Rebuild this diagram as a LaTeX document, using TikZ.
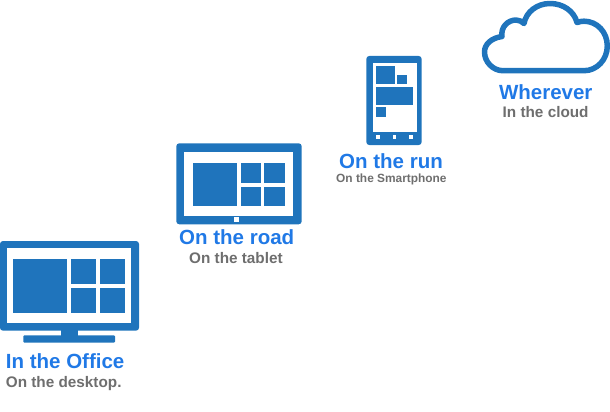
\documentclass[tikz,border=0pt]{standalone}
\usepackage{fontspec}
\setmainfont{Liberation Sans}
\usepackage{xcolor}
\usetikzlibrary{positioning}
\definecolor{devblue}{HTML}{1F74BC}
\definecolor{headblue}{HTML}{2079E6}
\definecolor{subgray}{HTML}{6E6E6E}

\begin{document}
\begin{tikzpicture}[
    x=1pt, y=-1pt,
    shell/.style={fill=devblue, rounded corners=3pt},
    glass/.style={fill=white},
    tile/.style={fill=devblue},
    heading/.style={inner sep=0pt, anchor=base west, text=headblue, font=\fontsize{20.5}{24}\selectfont\bfseries},
    subline/.style={inner sep=0pt, anchor=base west, text=subgray, font=\fontsize{15.3}{18}\selectfont\bfseries},
    smallsub/.style={subline, font=\fontsize{11.9}{14}\selectfont\bfseries}
]
\useasboundingbox (0,0) rectangle (610,412);
% desktop
\fill[tile] (60.7,330) rectangle (77.7,336);
\fill[tile, rounded corners=1pt] (23.3,335.3) rectangle (115,342.7);
\fill[shell] (0,241) rectangle (139,330.7);
\fill[glass] (6.7,248) rectangle (131,323);
\fill[tile] (12.7,258.7) rectangle (66.7,312.7);
\fill[tile] (71,258.7) rectangle (96.3,283.7);
\fill[tile] (100.3,258.7) rectangle (125.3,283.7);
\fill[tile] (71,287.7) rectangle (96.3,312.7);
\fill[tile] (100.3,287.7) rectangle (125.3,312.7);
\node[heading] (office) at (5.7,368) {In the Office};
\node[subline, below=19pt of office.base west, anchor=base west] (desktop) {On the desktop.};
% tablet
\fill[shell] (176.3,143.3) rectangle (301.7,224.3);
\fill[glass] (184.3,152.3) rectangle (292.7,215.7);
\fill[tile] (193,163) rectangle (237.3,206.3);
\fill[tile] (240.7,163) rectangle (261,183.3);
\fill[tile] (264.3,163) rectangle (284.7,183.3);
\fill[tile] (240.7,186.7) rectangle (261,206.3);
\fill[tile] (264.3,186.7) rectangle (284.7,206.3);
\fill[glass] (233.7,216.7) rectangle (238.7,221.7);
\node[heading] (road) at (179,244.6) {On the road};
\node[subline, below=19pt of road.base west, xshift=10pt, anchor=base west] (tablet) {On the tablet};
% smartphone
\fill[shell] (366.3,56) rectangle (421.7,145);
\fill[glass] (373,62.7) rectangle (416.7,131.7);
\fill[tile] (376.3,66) rectangle (394.7,84.3);
\fill[tile] (397.3,75) rectangle (406.7,84.3);
\fill[tile] (376.3,86.7) rectangle (412.7,105.3);
\fill[tile] (376.3,107.3) rectangle (385.7,116.7);
\fill[glass] (376.2,134.9) rectangle +(3.6,3.6);
\fill[glass] (392.5,134.9) rectangle +(3.6,3.6);
\fill[glass] (408.9,134.9) rectangle +(3.6,3.6);
\node[heading] (run) at (339,168) {On the run};
\node[smallsub, below=14.7pt of run.base west, xshift=-3pt, anchor=base west] (phone) {On the Smartphone};
% cloud
\draw[devblue, line width=5.5pt, line join=round]
    (503,70.7) .. controls (493,70.7) and (484.5,62) .. (484.5,52)
    .. controls (484.5,44.5) and (491,38) .. (502,36.5)
    .. controls (500.5,27) and (508,20) .. (516,20)
    .. controls (519,20) and (522,21.5) .. (524,23.5)
    .. controls (526,12) and (537,3.5) .. (550,3.5)
    .. controls (563,3.5) and (574,11) .. (577,22.5)
    .. controls (580,21.5) and (582,21.2) .. (584,21.2)
    .. controls (597,21.2) and (607.3,32) .. (607.3,46)
    .. controls (607.3,59.5) and (597,70.7) .. (584,70.7)
    -- cycle;
\node[heading] (wherever) at (498.8,99) {Wherever};
\node[subline, below=18pt of wherever.base west, xshift=3.7pt, anchor=base west] (cloud) {In the cloud};
\end{tikzpicture}
\end{document}
